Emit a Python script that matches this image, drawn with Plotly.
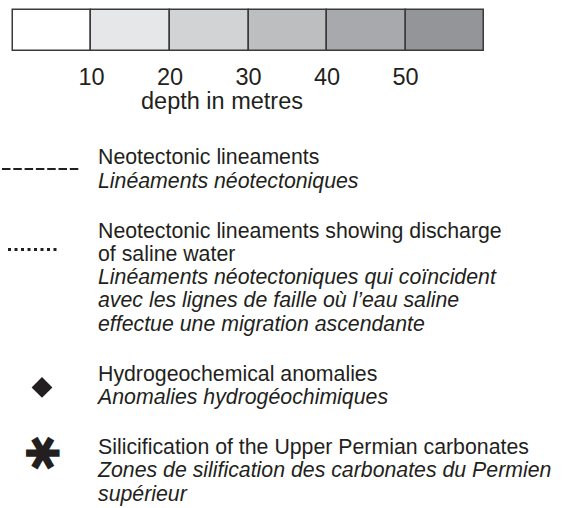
import plotly.graph_objects as go

W, H = 571, 508

# depth classes of the grey scale bar
depth_lo = [0, 10, 20, 30, 40, 50]
depth_hi = [10, 20, 30, 40, 50, 60]
depth_ticks = [10, 20, 30, 40, 50]
grey_fill = ["#ffffff", "#e6e7e8", "#d1d3d4", "#bcbec0", "#a7a9ac", "#939598"]

# legend entries: upright english lines, italic french lines
entry_symbol = ["dash", "dot", "diamond", "asterisk"]
entry_en = [
    ["Neotectonic lineaments"],
    ["Neotectonic lineaments showing discharge", "of saline water"],
    ["Hydrogeochemical anomalies"],
    ["Silicification of the Upper Permian carbonates"],
]
entry_fr = [
    ["Linéaments néotectoniques"],
    ["Linéaments néotectoniques qui coïncident",
     "avec les lignes de faille où l’eau saline",
     "effectue une migration ascendante"],
    ["Anomalies hydrogéochimiques"],
    ["Zones de silification des carbonates du Permien", "supérieur"],
]

INK = "#231f20"
FONT = "Liberation Sans, Arial, sans-serif"
TXT = 21.3
LINE_H = 23.2
ENTRY_GAP = 27
TOP = 159

fig = go.Figure()

# grey scale bar
fig.add_trace(go.Bar(
    x=[(a + b) / 2 for a, b in zip(depth_lo, depth_hi)],
    y=[1] * len(depth_lo),
    width=[b - a for a, b in zip(depth_lo, depth_hi)],
    marker=dict(color=grey_fill, line=dict(color="#3a3a3a", width=1.5)),
    xaxis="x", yaxis="y", hoverinfo="skip", showlegend=False,
))

annotations = [dict(
    text="depth in metres", xref="x", yref="paper", x=26.6, y=1 - 101 / H,
    showarrow=False, xanchor="center", yanchor="middle",
    font=dict(size=23.5, color=INK, family=FONT),
)]

# legend rows
y = TOP
for sym, en, fr in zip(entry_symbol, entry_en, entry_fr):
    lines = en + fr
    ys = [y + i * LINE_H for i in range(len(lines))]
    fig.add_trace(go.Scatter(
        x=[98] * len(en), y=ys[:len(en)], mode="text", text=en,
        textposition="middle right",
        textfont=dict(size=TXT, color=INK, family=FONT),
        xaxis="x2", yaxis="y2", hoverinfo="skip", showlegend=False,
    ))
    fig.add_trace(go.Scatter(
        x=[98] * len(fr), y=ys[len(en):], mode="text",
        text=[f"<i>{t}</i>" for t in fr],
        textposition="middle right",
        textfont=dict(size=TXT, color=INK, family=FONT),
        xaxis="x2", yaxis="y2", hoverinfo="skip", showlegend=False,
    ))
    if sym == "dash":
        fig.add_trace(go.Scatter(
            x=[2, 80], y=[ys[0] + 10] * 2, mode="lines",
            line=dict(color=INK, width=2, dash="8.5px,2.8px"),
            xaxis="x2", yaxis="y2", hoverinfo="skip", showlegend=False,
        ))
    elif sym == "dot":
        fig.add_trace(go.Scatter(
            x=[8, 58], y=[ys[0] + 17] * 2, mode="lines",
            line=dict(color=INK, width=3, dash="3px,3.5px"),
            xaxis="x2", yaxis="y2", hoverinfo="skip", showlegend=False,
        ))
    elif sym == "diamond":
        fig.add_trace(go.Scatter(
            x=[42], y=[ys[0] + 12], mode="markers",
            marker=dict(symbol="diamond", size=16, color=INK),
            xaxis="x2", yaxis="y2", hoverinfo="skip", showlegend=False,
        ))
    else:
        annotations.append(dict(
            text="✱", xref="x2", yref="y2", x=42, y=ys[0] + 4,
            showarrow=False, textangle=90, xanchor="center", yanchor="middle",
            font=dict(size=46, color=INK, family="DejaVu Sans"),
        ))
    y = ys[-1] + LINE_H + ENTRY_GAP

fig.update_layout(
    width=W, height=H,
    margin=dict(l=0, r=0, t=0, b=0),
    paper_bgcolor="white", plot_bgcolor="rgba(0,0,0,0)",
    bargap=0,
    xaxis=dict(domain=[11 / W, 486 / W], range=[-0.25, 60.25], tickvals=depth_ticks,
               ticks="", showline=False, showgrid=False, zeroline=False,
               tickfont=dict(size=23.5, color=INK, family=FONT),
               ticklabelstandoff=7, anchor="y"),
    yaxis=dict(domain=[1 - 53 / H, 1 - 8 / H], range=[-0.05, 1.05], visible=False),
    xaxis2=dict(domain=[0, 1], range=[0, W], visible=False, anchor="y2"),
    yaxis2=dict(domain=[0, 1], range=[H, 0], visible=False, anchor="x2"),
    annotations=annotations,
)

fig.write_html("out.html", config={"displayModeBar": False},
               post_script="document.body.style.margin='0';")
